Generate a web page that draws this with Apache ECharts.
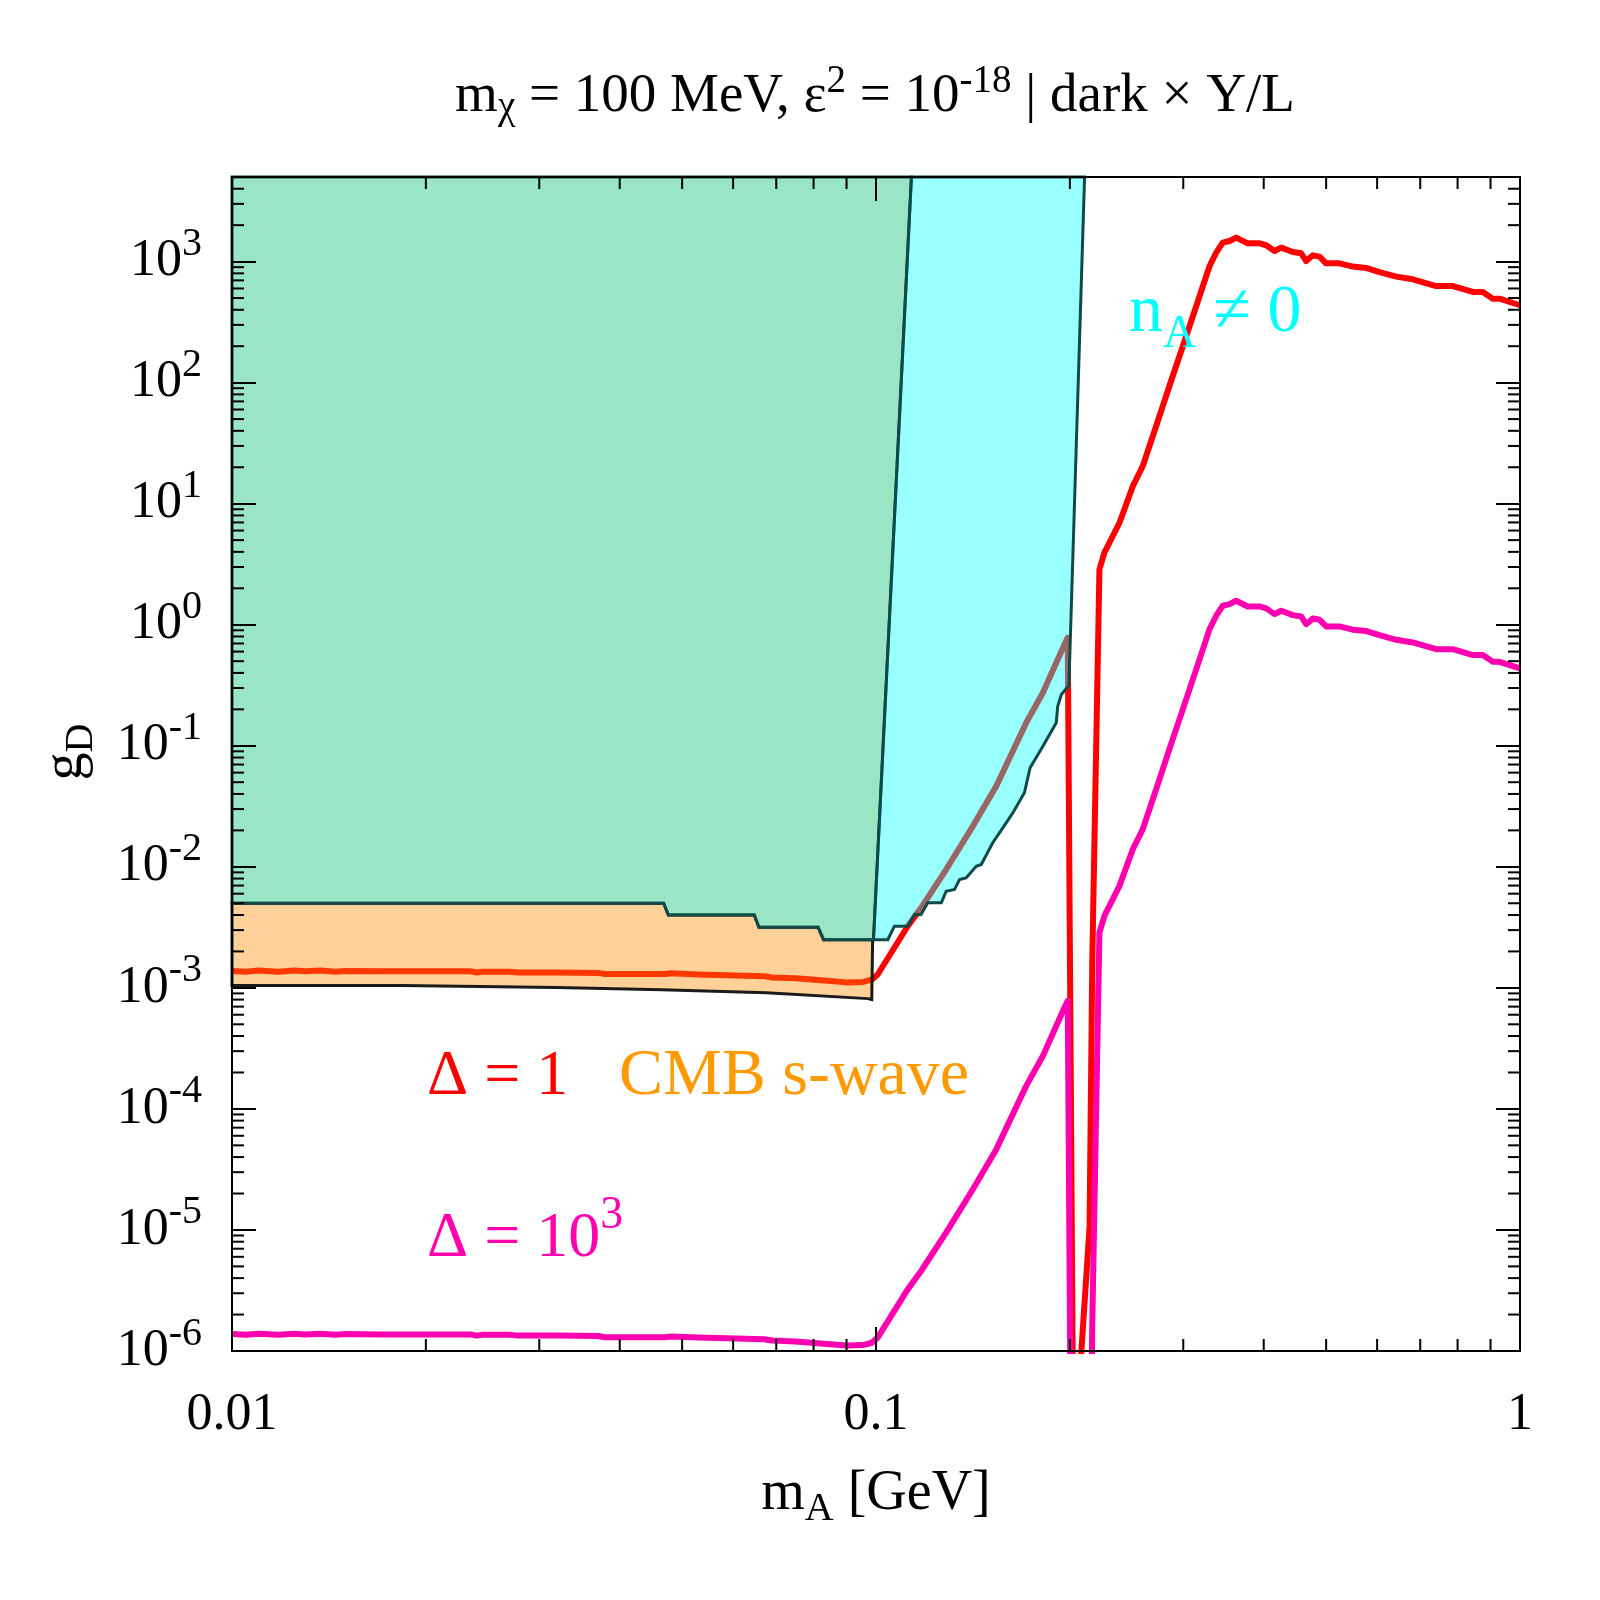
<!DOCTYPE html>
<html>
<head>
<meta charset="utf-8">
<script src="https://cdn.jsdelivr.net/npm/echarts@6.0.0/dist/echarts.min.js"></script>
<style>
html, body { margin: 0; padding: 0; background: #fff; }
#main { width: 1600px; height: 1600px; }
</style>
</head>
<body>
<div id="main"></div>
<script>
var chartDom = document.getElementById('main');
var myChart = echarts.init(chartDom);

var FONT = "'Liberation Serif', 'Times New Roman', serif";

// m_A [GeV] sample points shared by both curves
var mA = [0.01, 0.0105, 0.011, 0.0118, 0.0125, 0.013, 0.0137, 0.0145, 0.015, 0.017,
    0.02, 0.0235, 0.024, 0.0245, 0.027, 0.0278, 0.032, 0.037, 0.038, 0.047,
    0.048, 0.053, 0.067, 0.069, 0.075, 0.083, 0.09, 0.0955, 0.0985, 0.1006,
    0.112, 0.1175, 0.1285, 0.1414, 0.1537, 0.1711, 0.1816, 0.1905, 0.1962, 0.1985,
    0.2026, 0.2146, 0.2167, 0.2223, 0.2263, 0.2388, 0.2505, 0.2596, 0.2723, 0.2855,
    0.2995, 0.3143, 0.3296, 0.3375, 0.3455, 0.354, 0.3625, 0.3778, 0.394, 0.4036,
    0.4158, 0.4258, 0.4438, 0.4573, 0.4656, 0.4768, 0.4884, 0.5, 0.5244, 0.5501,
    0.577, 0.605, 0.6424, 0.6816, 0.7411, 0.7864, 0.8448, 0.8753, 0.9074, 0.929, 1.0];

// g_D for Delta = 1 (red)
var gDelta1 = [1.38e-3, 1.36e-3, 1.39e-3, 1.36e-3, 1.39e-3, 1.37e-3, 1.39e-3, 1.36e-3, 1.38e-3, 1.37e-3,
    1.37e-3, 1.37e-3, 1.34e-3, 1.36e-3, 1.36e-3, 1.34e-3, 1.34e-3, 1.33e-3, 1.30e-3, 1.30e-3,
    1.32e-3, 1.29e-3, 1.25e-3, 1.22e-3, 1.20e-3, 1.15e-3, 1.11e-3, 1.12e-3, 1.17e-3, 1.29e-3,
    3.23e-3, 4.58e-3, 9.5e-3, 0.0217, 0.0463, 0.155, 0.274, 0.485, 0.687, 0.782,
    1e-7, 1.07e-5, 1.71e-3, 2.86, 3.94, 6.96, 13.96, 20.5, 43.8, 93.8,
    200, 430, 920, 1187, 1435, 1480, 1579, 1416, 1416, 1365,
    1224, 1305, 1200, 1171, 1011, 1127, 1099, 968, 968, 910,
    886, 820, 751, 714, 628, 628, 561, 561, 494, 494, 436];

// g_D for Delta = 10^3 (magenta)
var gDelta1000 = [1.38e-6, 1.36e-6, 1.39e-6, 1.36e-6, 1.39e-6, 1.37e-6, 1.39e-6, 1.36e-6, 1.38e-6, 1.37e-6,
    1.37e-6, 1.37e-6, 1.34e-6, 1.36e-6, 1.36e-6, 1.34e-6, 1.34e-6, 1.33e-6, 1.30e-6, 1.30e-6,
    1.32e-6, 1.29e-6, 1.25e-6, 1.22e-6, 1.20e-6, 1.15e-6, 1.11e-6, 1.12e-6, 1.17e-6, 1.29e-6,
    3.23e-6, 4.58e-6, 9.5e-6, 2.17e-5, 4.63e-5, 1.55e-4, 2.74e-4, 4.85e-4, 6.87e-4, 7.82e-4,
    1e-10, 1.07e-8, 1.71e-6, 2.86e-3, 3.94e-3, 6.96e-3, 0.01396, 0.0205, 0.0438, 0.0938,
    0.2, 0.43, 0.92, 1.187, 1.435, 1.48, 1.579, 1.416, 1.416, 1.365,
    1.224, 1.305, 1.2, 1.171, 1.011, 1.127, 1.099, 0.968, 0.968, 0.91,
    0.886, 0.82, 0.751, 0.714, 0.628, 0.628, 0.561, 0.561, 0.494, 0.494, 0.436];

// green excluded region outline
var greenX = [0.01, 0.1135, 0.0991, 0.0829, 0.0813, 0.0658, 0.0647, 0.0476, 0.0468, 0.01];
var greenY = [5000, 5000, 2.5e-3, 2.5e-3, 3.17e-3, 3.17e-3, 4.0e-3, 4.0e-3, 5.0e-3, 5.0e-3];

// cyan region (n_A != 0)
var cyanX = [0.1135, 0.2108, 0.1993, 0.1940, 0.1915, 0.1905, 0.1816, 0.1735, 0.1700, 0.1631,
    0.1555, 0.1518, 0.1457, 0.1431, 0.1380, 0.1348, 0.1324, 0.1285, 0.1263, 0.1203,
    0.1175, 0.1148, 0.1120, 0.1068, 0.1043, 0.0991];
var cyanY = [5000, 5000, 0.315, 0.2655, 0.2123, 0.155, 0.0993, 0.0658, 0.0409, 0.0279,
    0.0191, 0.0158, 0.01045, 0.0101, 0.0081, 0.00785, 0.00649, 0.00628, 0.00504, 0.00504,
    0.00403, 0.00403, 0.00323, 0.00323, 0.0025, 0.0025];

// orange CMB s-wave band
var orangeX = [0.01, 0.0468, 0.0476, 0.0647, 0.0658, 0.0813, 0.0829, 0.0988, 0.0985, 0.0971,
    0.0676, 0.0465, 0.0319, 0.0183, 0.01];
var orangeY = [5.0e-3, 5.0e-3, 4.0e-3, 4.0e-3, 3.17e-3, 3.17e-3, 2.5e-3, 2.5e-3, 8.0e-4, 8.15e-4,
    9.1e-4, 9.67e-4, 1.005e-3, 1.045e-3, 1.045e-3];

// minor tick mantissas and decades
var minorDigits = [2, 3, 4, 5, 6, 7, 8, 9];
var xDecades = [0.01, 0.1];
var yDecades = [1e-6, 1e-5, 1e-4, 1e-3, 1e-2, 1e-1, 1, 10, 100, 1000];

var X_MIN = 0.01, X_MAX = 1, Y_MIN = 1e-6, Y_MAX = 5000;

var xMinor = [];
xDecades.forEach(d => minorDigits.forEach(m => xMinor.push(m * d)));
var yMinor = [];
yDecades.forEach(d => minorDigits.forEach(m => { if (m * d < Y_MAX) yMinor.push(m * d); }));

function zip(xs, ys) {
    return xs.map((x, i) => [x, ys[i]]);
}

function isDecade(v) {
    var l = Math.log10(v);
    return Math.abs(l - Math.round(l)) < 1e-6;
}

function regionSeries(name, xs, ys, fill, stroke, z) {
    return {
        name: name, type: 'custom', coordinateSystem: 'cartesian2d', z: z, silent: true,
        data: [[xs[0], ys[0]]],
        renderItem: function (params, api) {
            var pts = xs.map((x, i) => api.coord([x, ys[i]]));
            return {
                type: 'polygon', shape: { points: pts },
                style: { fill: fill, stroke: stroke, lineWidth: 3, lineJoin: 'miter' }
            };
        }
    };
}

var tickLine = { color: '#000', width: 2 };

function axisCommon(pos, showLabel) {
    return {
        type: 'log', logBase: 10, position: pos, z: 10,
        axisLine: { show: true, onZero: false, lineStyle: tickLine },
        axisTick: { show: true, inside: true, length: 24, lineStyle: tickLine },
        splitLine: { show: false },
        axisLabel: { show: showLabel }
    };
}

var xBottom = axisCommon('bottom', true);
xBottom.min = X_MIN; xBottom.max = X_MAX;
xBottom.axisLabel = {
    show: true, margin: 38, color: '#000', fontSize: 52, fontFamily: FONT,
    showMinLabel: true, showMaxLabel: true,
    formatter: function (v) { return isDecade(v) ? String(Number(v.toPrecision(3))) : ''; }
};
var xTop = axisCommon('top', false);
xTop.min = X_MIN; xTop.max = X_MAX;

var yLeft = axisCommon('left', true);
yLeft.min = Y_MIN; yLeft.max = Y_MAX;
yLeft.axisLabel = {
    show: true, margin: 30, color: '#000',
    formatter: function (v) {
        if (!isDecade(v)) return '';
        return '{b|10}{s|' + Math.round(Math.log10(v)) + '}';
    },
    rich: {
        b: { fontSize: 52, fontFamily: FONT, color: '#000' },
        s: { fontSize: 40, fontFamily: FONT, color: '#000', padding: [0, 0, 34, 0] }
    }
};
var yRight = axisCommon('right', false);
yRight.min = Y_MIN; yRight.max = Y_MAX;

var minorStyle = { stroke: '#000', lineWidth: 2 };

var series = [
    {
        name: 'Delta = 1', type: 'line', z: 2, data: zip(mA, gDelta1),
        showSymbol: false, clip: true, silent: true,
        lineStyle: { color: '#ff0000', width: 6, join: 'round' }
    },
    regionSeries('CMB s-wave', orangeX, orangeY, 'rgba(255,140,0,0.4)', '#1a1a1a', 3),
    regionSeries('excluded', greenX, greenY, 'rgba(0,190,110,0.4)', '#0f4a48', 3),
    regionSeries('n_A != 0', cyanX, cyanY, 'rgba(0,255,255,0.4)', '#0f4a48', 3),
    {
        name: 'Delta = 10^3', type: 'line', z: 4, data: zip(mA, gDelta1000),
        showSymbol: false, clip: true, silent: true,
        lineStyle: { color: '#ff00b0', width: 6, join: 'round' }
    },
    {
        type: 'custom', coordinateSystem: 'cartesian2d', z: 11, silent: true,
        data: xMinor.map(v => [v, Y_MIN]),
        renderItem: function (params, api) {
            var v = api.value(0);
            var b = api.coord([v, Y_MIN]);
            var t = api.coord([v, Y_MAX]);
            return {
                type: 'group', children: [
                    { type: 'line', shape: { x1: b[0], y1: b[1], x2: b[0], y2: b[1] - 12 }, style: minorStyle },
                    { type: 'line', shape: { x1: t[0], y1: t[1], x2: t[0], y2: t[1] + 12 }, style: minorStyle }
                ]
            };
        }
    },
    {
        type: 'custom', coordinateSystem: 'cartesian2d', z: 11, silent: true,
        data: yMinor.map(v => [X_MIN, v]),
        renderItem: function (params, api) {
            var v = api.value(1);
            var l = api.coord([X_MIN, v]);
            var r = api.coord([X_MAX, v]);
            return {
                type: 'group', children: [
                    { type: 'line', shape: { x1: l[0], y1: l[1], x2: l[0] + 12, y2: l[1] }, style: minorStyle },
                    { type: 'line', shape: { x1: r[0], y1: r[1], x2: r[0] - 12, y2: r[1] }, style: minorStyle }
                ]
            };
        }
    }
];

var option = {
    backgroundColor: '#fff',
    animation: false,
    grid: { left: 232, top: 177, width: 1288, height: 1174, containLabel: false },
    xAxis: [xBottom, xTop],
    yAxis: [yLeft, yRight],
    series: series,
    graphic: [
        {
            type: 'text', x: 875, y: 97, z: 20,
            style: {
                text: '{t|m}{sub|χ}{t| = 100 MeV, ε}{sup|2}{t| = 10}{sup|-18}{t| | dark × Y/L}',
                align: 'center', verticalAlign: 'middle',
                rich: {
                    t: { fontSize: 55, fontFamily: FONT, fill: '#000' },
                    sub: { fontSize: 39, fontFamily: FONT, fill: '#000', padding: [22, 0, 0, 0] },
                    sup: { fontSize: 39, fontFamily: FONT, fill: '#000', padding: [0, 0, 30, 0] }
                }
            }
        },
        {
            type: 'text', x: 876, y: 1494, z: 20,
            style: {
                text: '{t|m}{sub|A}{t| [GeV]}',
                align: 'center', verticalAlign: 'middle',
                rich: {
                    t: { fontSize: 56, fontFamily: FONT, fill: '#000' },
                    sub: { fontSize: 40, fontFamily: FONT, fill: '#000', padding: [30, 0, 0, 0] }
                }
            }
        },
        {
            type: 'text', x: 66, y: 752, z: 20, rotation: Math.PI / 2,
            style: {
                text: '{t|g}{sub|D}',
                align: 'center', verticalAlign: 'middle',
                rich: {
                    t: { fontSize: 56, fontFamily: FONT, fill: '#000' },
                    sub: { fontSize: 40, fontFamily: FONT, fill: '#000', padding: [30, 0, 0, 0] }
                }
            }
        },
        {
            type: 'text', x: 427, y: 1077, z: 20,
            style: { text: 'Δ = 1', fontSize: 64, fontFamily: FONT, fill: '#ff0000', align: 'left', verticalAlign: 'middle' }
        },
        {
            type: 'text', x: 619, y: 1077, z: 20,
            style: { text: 'CMB s-wave', fontSize: 66, fontFamily: FONT, fill: '#ff9900', align: 'left', verticalAlign: 'middle' }
        },
        {
            type: 'text', x: 427, y: 1239, z: 20,
            style: {
                text: '{t|Δ = 10}{sup|3}', align: 'left', verticalAlign: 'middle',
                rich: {
                    t: { fontSize: 64, fontFamily: FONT, fill: '#ff00b0' },
                    sup: { fontSize: 46, fontFamily: FONT, fill: '#ff00b0', padding: [0, 0, 46, 0] }
                }
            }
        },
        {
            type: 'text', x: 1129, y: 313, z: 20,
            style: {
                text: '{t|n}{sub|A}{t| ≠ 0}', align: 'left', verticalAlign: 'middle',
                rich: {
                    t: { fontSize: 68, fontFamily: FONT, fill: '#00ffff' },
                    sub: { fontSize: 46, fontFamily: FONT, fill: '#00ffff', padding: [44, 0, 0, 0] }
                }
            }
        }
    ]
};

option && myChart.setOption(option);
</script>
</body>
</html>
